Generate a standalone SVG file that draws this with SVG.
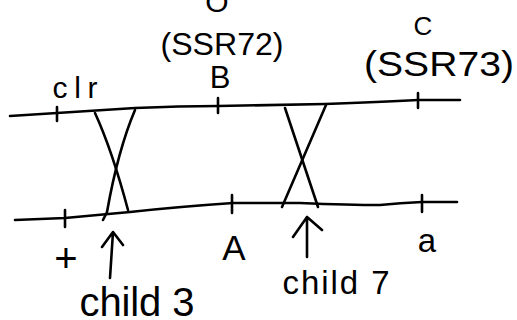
<svg xmlns="http://www.w3.org/2000/svg" width="517" height="320" viewBox="0 0 517 320">
<style>
.ln{fill:none;stroke:#000;stroke-width:2.6;stroke-linecap:round;stroke-linejoin:round}
.t{font-family:"Liberation Sans","DejaVu Sans",sans-serif;fill:#000;text-anchor:middle}
</style>
<rect width="517" height="320" fill="#fff"/>
<g id="chromosomes">
<path id="top-line" class="ln" d="M10,116 Q40,114 57,113 L135,108 Q180,106 218,106 L325,104 Q380,102 418,100 L460,100"/>
<path id="bottom-line" class="ln" d="M15,220 Q40,219 65,218 L130,212 Q175,207 233,203 L300,203 Q350,205 380,205 Q400,203 422,202 L457,202"/>
</g>
<g id="ticks">
<path class="ln" d="M57,107 V121 M218,98 V113 M418,93 V108 M65,210 V227 M232,195 V213 M422,195 V212"/>
</g>
<g id="connectors">
<g id="crossover1">
<path class="ln" d="M95,113 Q112,150 128,210"/>
<path class="ln" d="M135,110 Q118,150 107,212 L103,220"/>
</g>
<g id="crossover2">
<path class="ln" d="M285,108 L318,207"/>
<path class="ln" d="M326,105 L282,207"/>
</g>
<g id="arrow-child3">
<path class="ln" d="M110,278 L113,232 M102,247 L113,232 L123,245"/>
</g>
<g id="arrow-child7">
<path class="ln" d="M307,257 L307,217 M293,237 L307,217 L322,230"/>
</g>
</g>
<g id="labels">
<text class="t" x="217" y="12" font-size="30">O</text>
<text class="t" x="222" y="55" font-size="31" textLength="123" lengthAdjust="spacingAndGlyphs">(SSR72)</text>
<text class="t" x="220" y="88" font-size="31">B</text>
<text class="t" x="423" y="35" font-size="26">C</text>
<text class="t" x="439" y="76" font-size="35" textLength="150" lengthAdjust="spacingAndGlyphs">(SSR73)</text>
<text class="t" x="75" y="98" font-size="30" textLength="45" lengthAdjust="spacing">clr</text>
<text class="t" x="66" y="272" font-size="40">+</text>
<text class="t" x="427" y="252" font-size="33">a</text>
<text class="t" x="234" y="260" font-size="35">A</text>
<text class="t" x="137" y="316" font-size="40" textLength="115" lengthAdjust="spacing">child 3</text>
<text class="t" x="336" y="294" font-size="33" textLength="107" lengthAdjust="spacing">child 7</text>
</g>
</svg>
